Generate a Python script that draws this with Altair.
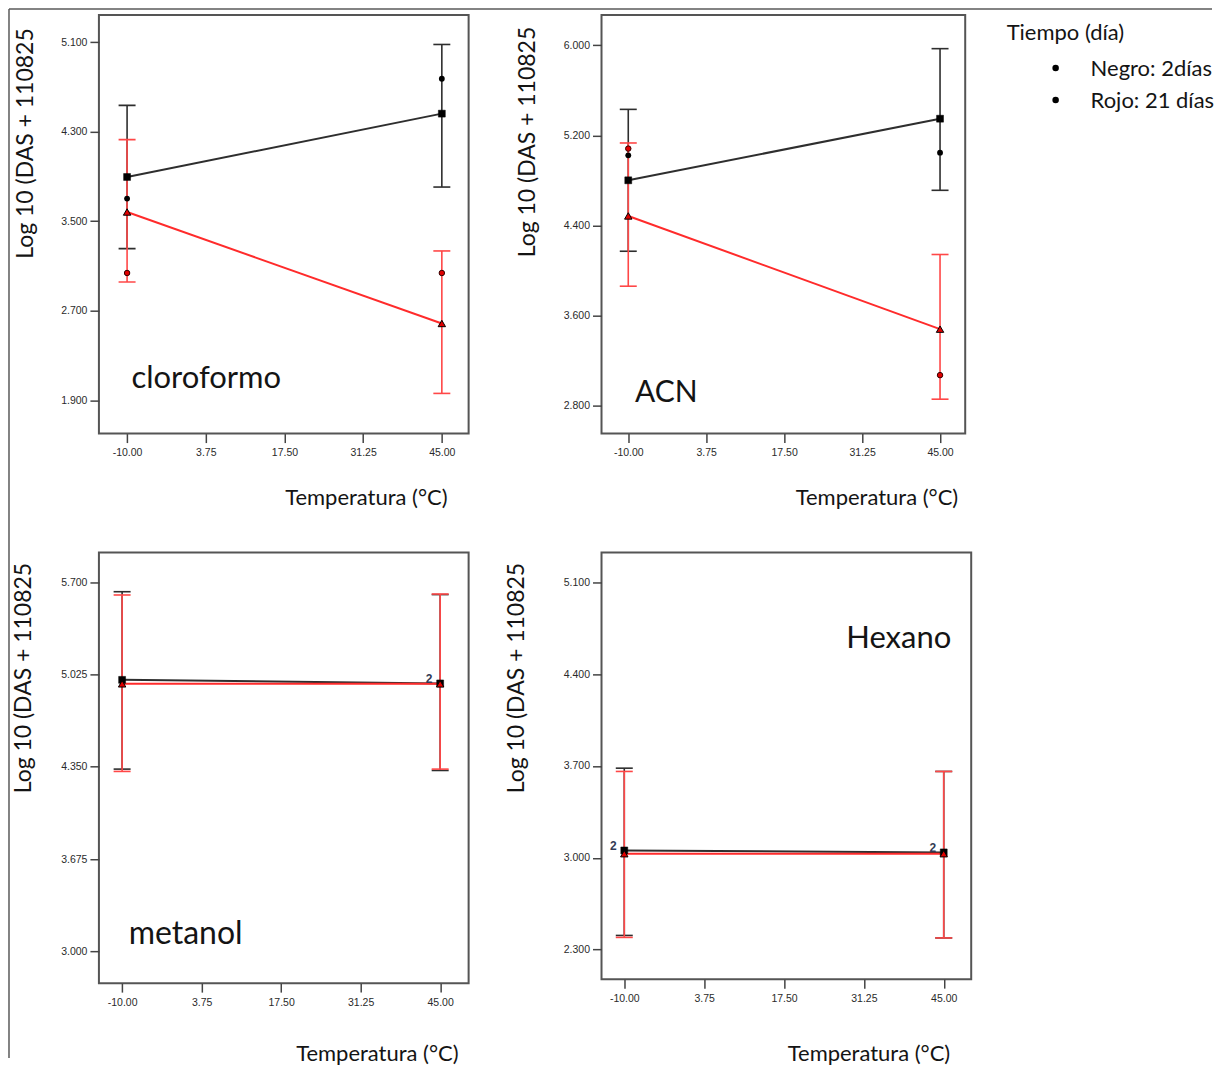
import altair as alt
import pandas as pd

# ---------------- data ----------------
TEMPS = [-10, 45]
X_TICKS = [-10, 3.75, 17.5, 31.25, 45]
Y_TITLE = "Log 10 (DAS + 110825"
X_TITLE = "Temperatura (°C)"

CLO_NEGRO_MEDIA = [3.895, 4.461]
CLO_NEGRO_INF = [3.255, 3.805]
CLO_NEGRO_SUP = [4.535, 5.079]
CLO_NEGRO_OBS = [3.702, 4.773]
CLO_ROJO_MEDIA = [3.582, 2.586]
CLO_ROJO_INF = [2.957, 1.961]
CLO_ROJO_SUP = [4.229, 3.234]
CLO_ROJO_OBS = [3.037, 3.037]
CLO_YTICKS = [1.9, 2.7, 3.5, 4.3, 5.1]

ACN_NEGRO_MEDIA = [4.800, 5.348]
ACN_NEGRO_INF = [4.169, 4.711]
ACN_NEGRO_SUP = [5.431, 5.971]
ACN_NEGRO_OBS = [5.022, 5.046]
ACN_ROJO_MEDIA = [4.483, 3.476]
ACN_ROJO_INF = [3.858, 2.853]
ACN_ROJO_SUP = [5.132, 4.140]
ACN_ROJO_OBS = [5.082, 3.067]
ACN_YTICKS = [2.8, 3.6, 4.4, 5.2, 6.0]

MET_NEGRO_MEDIA = [4.986, 4.960]
MET_NEGRO_INF = [4.333, 4.323]
MET_NEGRO_SUP = [5.631, 5.610]
MET_ROJO_MEDIA = [4.957, 4.957]
MET_ROJO_INF = [4.316, 4.333]
MET_ROJO_SUP = [5.607, 5.614]
MET_YTICKS = [3.0, 3.675, 4.35, 5.025, 5.7]
MET_DOBLES = [45]

HEX_NEGRO_MEDIA = [3.056, 3.041]
HEX_NEGRO_INF = [2.408, 2.389]
HEX_NEGRO_SUP = [3.683, 3.658]
HEX_ROJO_MEDIA = [3.031, 3.031]
HEX_ROJO_INF = [2.393, 2.389]
HEX_ROJO_SUP = [3.658, 3.658]
HEX_YTICKS = [2.3, 3.0, 3.7, 4.4, 5.1]
HEX_DOBLES = [-10, 45]

LEYENDA_TITULO = "Tiempo (día)"
LEYENDA_ITEMS = ["Negro: 2días", "Rojo: 21 días"]

# ---------------- styles ----------------
NEGRO = "#2e2e2e"
ROJO = "#ff2b2b"
ROJO_BARRA = "#ff4747"
TXT = "#141414"
FONT = "Lato"


def one(text):
    return pd.DataFrame({"t": [text]})


def make_panel(label, nm, nlo, nhi, nobs, rm, rlo, rhi, robs, yticks,
               xdom, ydom, w, h, lay, dobles, extra=()):
    neg = pd.DataFrame({"temp": TEMPS, "media": nm, "inf": nlo, "sup": nhi})
    roj = pd.DataFrame({"temp": TEMPS, "media": rm, "inf": rlo, "sup": rhi})
    xs = alt.Scale(domain=xdom, nice=False, zero=False)
    ys = alt.Scale(domain=ydom, nice=False, zero=False)
    xa = alt.Axis(values=X_TICKS, format=".2f", title=X_TITLE,
                  labelExpr="replace(datum.label, '\u2212', '-')",
                  titleX=lay["xtx"], titleY=lay["xty"], titleAlign="right",
                  titleBaseline="alphabetic", labelFlush=False,
                  labelOverlap=False, labelPadding=5)
    ya = alt.Axis(values=yticks, format=".3f", title=Y_TITLE,
                  titleX=lay["ytx"], titleY=lay["yty"], titleAngle=270,
                  titleAlign="left", titleBaseline="alphabetic",
                  titleFontSize=23, labelPadding=3, labelOverlap=False)

    def X():
        return alt.X("temp:Q", scale=xs, axis=xa)

    def Y(f):
        return alt.Y(f"{f}:Q", scale=ys, axis=ya)

    def bars(df, col):
        return [
            alt.Chart(df).mark_rule(color=col, strokeWidth=1.6).encode(
                x=X(), y=Y("inf"), y2="sup:Q"),
            alt.Chart(df).mark_tick(orient="horizontal", size=17, thickness=1.6,
                                    color=col, opacity=1).encode(x=X(), y=Y("inf")),
            alt.Chart(df).mark_tick(orient="horizontal", size=17, thickness=1.6,
                                    color=col, opacity=1).encode(x=X(), y=Y("sup")),
        ]

    layers = bars(neg, NEGRO) + bars(roj, ROJO_BARRA)
    layers += [
        alt.Chart(neg).mark_line(color=NEGRO, strokeWidth=2).encode(x=X(), y=Y("media")),
        alt.Chart(roj).mark_line(color=ROJO, strokeWidth=2).encode(x=X(), y=Y("media")),
    ]
    if nobs:
        on = pd.DataFrame({"temp": TEMPS, "obs": nobs})
        layers.append(alt.Chart(on).mark_circle(size=34, color="black", opacity=1)
                      .encode(x=X(), y=Y("obs")))
    if robs:
        orr = pd.DataFrame({"temp": TEMPS, "obs": robs})
        layers.append(alt.Chart(orr).mark_point(shape="circle", size=30, fill="#e00000",
                                                fillOpacity=1, stroke="#300", strokeWidth=1,
                                                opacity=1)
                      .encode(x=X(), y=Y("obs")))
    layers += [
        alt.Chart(neg).mark_point(shape="square", size=48, fill="black", fillOpacity=1,
                                  stroke="black", strokeWidth=0.5, opacity=1)
        .encode(x=X(), y=Y("media")),
        alt.Chart(roj).mark_point(shape="triangle-up", size=55, fill="#e00000",
                                  fillOpacity=1, stroke="black", strokeWidth=1, opacity=1)
        .encode(x=X(), y=Y("media")),
    ]
    if dobles:
        dd = neg[neg.temp.isin(dobles)].assign(t="2")
        layers.append(alt.Chart(dd).mark_text(dx=-11, dy=-4, fontSize=12, font="Liberation Sans",
                                              fontWeight="bold", color="#333b55")
                      .encode(x=X(), y=Y("media"), text="t:N"))
    layers.append(alt.Chart(one(label)).mark_text(align="left", baseline="alphabetic",
                                                  fontSize=lay["lsize"], font=FONT, color=TXT)
                  .encode(text="t:N", x=alt.value(lay["lx"]), y=alt.value(lay["ly"])))
    layers += list(extra)
    return alt.layer(*layers).properties(width=w, height=h)


# border of the figure (drawn in panel 1 coordinates)
borde = [
    alt.Chart(one("")).mark_rule(color="#5a5a5a", strokeWidth=1.5)
    .encode(x=alt.value(-90), y=alt.value(-6), y2=alt.value(1044)),
    alt.Chart(one("")).mark_rule(color="#5a5a5a", strokeWidth=1.5)
    .encode(x=alt.value(-90), x2=alt.value(1114), y=alt.value(-6)),
]

# legend text (drawn in panel 2 coordinates)
leyenda = [
    alt.Chart(one(LEYENDA_TITULO)).mark_text(align="left", baseline="alphabetic",
                                             fontSize=22, font=FONT, color=TXT)
    .encode(text="t:N", x=alt.value(405.5), y=alt.value(24.8)),
    alt.Chart(one(LEYENDA_ITEMS[0])).mark_text(align="left", baseline="alphabetic",
                                               fontSize=22, font=FONT, color=TXT)
    .encode(text="t:N", x=alt.value(489.5), y=alt.value(61.5)),
    alt.Chart(one(LEYENDA_ITEMS[1])).mark_text(align="left", baseline="alphabetic",
                                               fontSize=22, font=FONT, color=TXT)
    .encode(text="t:N", x=alt.value(489.5), y=alt.value(92.8)),
    alt.Chart(one("")).mark_circle(size=42, color="black", opacity=1)
    .encode(x=alt.value(454.5), y=alt.value(53.2)),
    alt.Chart(one("")).mark_circle(size=42, color="black", opacity=1)
    .encode(x=alt.value(454.5), y=alt.value(85.2)),
]

p1 = make_panel("cloroformo", CLO_NEGRO_MEDIA, CLO_NEGRO_INF, CLO_NEGRO_SUP, CLO_NEGRO_OBS,
                CLO_ROJO_MEDIA, CLO_ROJO_INF, CLO_ROJO_SUP, CLO_ROJO_OBS, CLO_YTICKS,
                [-14.92, 49.68], [1.602, 5.343], 370, 419,
                dict(xtx=348.5, xty=70.5, ytx=-66.5, yty=243.5, lx=32.5, ly=373.5, lsize=31),
                None, borde)
p2 = make_panel("ACN", ACN_NEGRO_MEDIA, ACN_NEGRO_INF, ACN_NEGRO_SUP, ACN_NEGRO_OBS,
                ACN_ROJO_MEDIA, ACN_ROJO_INF, ACN_ROJO_SUP, ACN_ROJO_OBS, ACN_YTICKS,
                [-14.72, 49.44], [2.547, 6.271], 364, 419,
                dict(xtx=356.5, xty=70.5, ytx=-67.5, yty=242, lx=33.5, ly=387, lsize=30),
                None, leyenda)
p3 = make_panel("metanol", MET_NEGRO_MEDIA, MET_NEGRO_INF, MET_NEGRO_SUP, None,
                MET_ROJO_MEDIA, MET_ROJO_INF, MET_ROJO_SUP, None, MET_YTICKS,
                [-14.01, 49.92], [2.767, 5.918], 370, 431,
                dict(xtx=359.5, xty=77.5, ytx=-68.5, yty=240.5, lx=29.8, ly=391.5, lsize=32),
                MET_DOBLES)
p4 = make_panel("Hexano", HEX_NEGRO_MEDIA, HEX_NEGRO_INF, HEX_NEGRO_SUP, None,
                HEX_ROJO_MEDIA, HEX_ROJO_INF, HEX_ROJO_SUP, None, HEX_YTICKS,
                [-13.92, 49.73], [2.075, 5.327], 370, 427,
                dict(xtx=348.5, xty=81.5, ytx=-78, yty=240.5, lx=245, ly=96, lsize=31),
                HEX_DOBLES)

chart = alt.ConcatChart(
    concat=[p1, p2, p3, p4], columns=2,
    spacing={"row": 119, "column": 133}, bounds="flush", align="each",
).properties(
    padding={"left": -1, "top": -1.5, "right": 0, "bottom": 0},
    background="white",
).configure_view(
    stroke="#555555", strokeWidth=2
).configure_axis(
    grid=False, domain=False, tickColor="#444444", tickWidth=1.5, tickSize=9,
    labelFont="Liberation Sans", labelFontSize=10.5, labelColor="#2a2a2a",
    titleFont=FONT, titleFontSize=22, titleFontWeight="normal", titleColor=TXT,
)

chart.save("out.html", embed_options={"renderer": "svg", "actions": False})
